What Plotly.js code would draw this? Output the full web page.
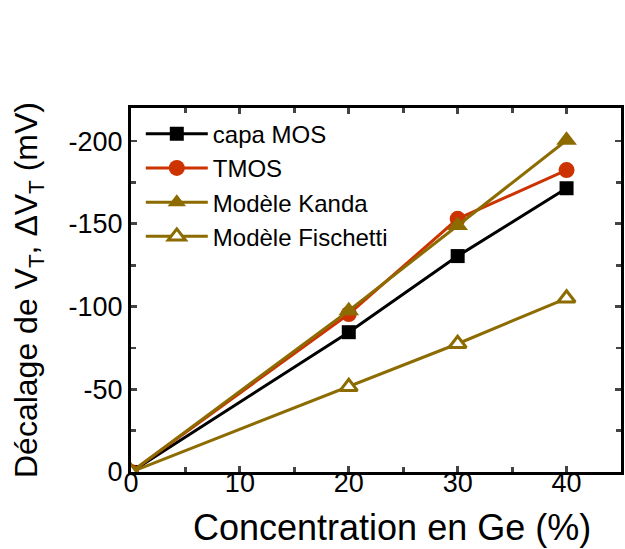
<!DOCTYPE html>
<html>
<head>
<meta charset="utf-8">
<script src="https://cdn.plot.ly/plotly-3.0.1.min.js"></script>
<style>html,body{margin:0;padding:0;background:#fff;}#chart{width:625px;height:549px;}</style>
</head>
<body>
<div id="chart"></div>
<script>
const concentration = [0, 20, 30, 40];
const capaMOS = [0, -84.5, -130.5, -171.5];
const tmos = [0, -95.5, -153, -182.5];
const kanda = [0, -97.5, -149, -200.5];
const fischetti = [0, -51.5, -77.5, -105];
const seriesNames = ["capa MOS", "TMOS", "Modèle Kanda", "Modèle Fischetti"];
const yTickVals = [0, -50, -100, -150, -200];
const yTickText = ["0", "-50", "-100", "-150", "-200"];
const xTickVals = [0, 10, 20, 30, 40];
const xTickText = ["0", "10", "20", "30", "40"];
const xTitle = "Concentration en Ge (%)";
const yTitle = "Décalage de V<sub>T</sub>, ΔV<sub>T</sub> (mV)";

const black = "#000000", red = "#CC3300", olive = "#8C6B00";
const lw = 3;
const traces = [
  {x: concentration, y: capaMOS, name: seriesNames[0], mode: "lines+markers",
   line: {color: black, width: lw}, marker: {symbol: "square", size: 14, color: black}},
  {x: concentration, y: tmos, name: seriesNames[1], mode: "lines+markers",
   line: {color: red, width: lw}, marker: {symbol: "circle", size: 16, color: red}},
  {x: concentration, y: kanda, name: seriesNames[2], mode: "lines+markers",
   line: {color: olive, width: lw}, marker: {symbol: "triangle-up", size: 18, color: olive}},
  {x: concentration, y: fischetti, name: seriesNames[3], mode: "lines+markers",
   line: {color: olive, width: lw}, marker: {symbol: "triangle-up", size: 15, color: "#ffffff", line: {color: olive, width: 3}}}
];
const font = "Liberation Sans, Arial, sans-serif";
const layout = {
  width: 625, height: 549,
  margin: {l: 131, r: 4, t: 108, b: 77},
  paper_bgcolor: "#fff", plot_bgcolor: "#fff",
  showlegend: true,
  legend: {x: 0.02, y: 0.99, xanchor: "left", yanchor: "top", bgcolor: "rgba(0,0,0,0)",
           font: {family: font, size: 24, color: "#000"}, itemwidth: 62, tracegroupgap: 0},
  xaxis: {range: [0, 45], tickmode: "array", tickvals: xTickVals, ticktext: xTickText,
          ticks: "inside", ticklen: 6, tickwidth: 2.8, mirror: "ticks", showline: true, linewidth: 3, linecolor: "#000",
          showgrid: false, zeroline: false, ticklabelstandoff: -15,
          minor: {tickvals: [5, 15, 25, 35, 45], ticks: "inside", ticklen: 5, tickwidth: 2.8, showgrid: false},
          tickfont: {family: font, size: 27, color: "#000"}},
  yaxis: {range: [0, -220], autorange: false, tickmode: "array", tickvals: yTickVals, ticktext: yTickText,
          ticks: "inside", ticklen: 6, tickwidth: 2.8, mirror: "ticks", showline: true, linewidth: 3, linecolor: "#000",
          showgrid: false, zeroline: false,
          minor: {tickvals: [-25, -75, -125, -175], ticks: "inside", ticklen: 5, tickwidth: 2.8, showgrid: false},
          tickfont: {family: font, size: 27, color: "#000"},
          title: {text: yTitle, font: {family: font, size: 32, color: "#000"}, standoff: 22}},
  annotations: [
    {text: xTitle, xref: "paper", yref: "paper", x: 0.532, y: -0.152, xanchor: "center", yanchor: "middle",
     showarrow: false, font: {family: font, size: 36, color: "#000"}}
  ]
};
Plotly.newPlot("chart", traces, layout, {staticPlot: true, displayModeBar: false});
</script>
</body>
</html>
